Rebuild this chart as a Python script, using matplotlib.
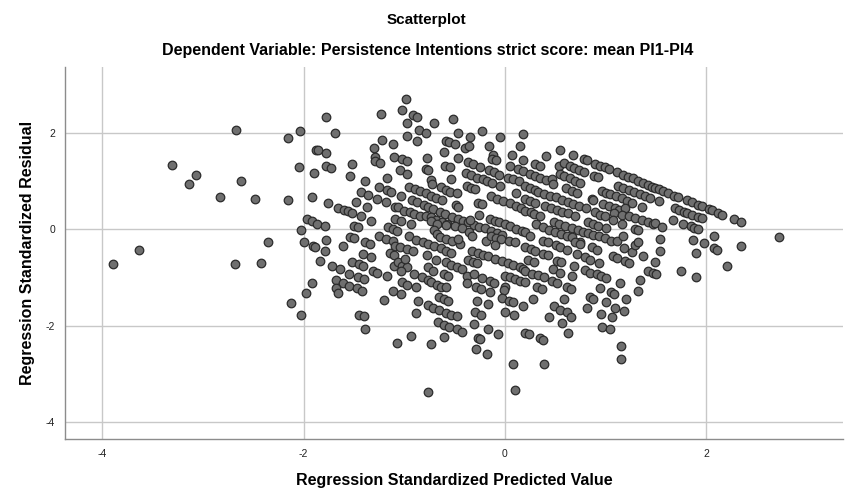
import matplotlib.pyplot as plt

# far-left, sparse
pred_left = [-3.89, -3.63, -3.31, -3.14, -3.07, -2.83, -2.67, -2.68, -2.62, -2.48, -2.42, -2.35]
resid_left = [-0.73, -0.44, 1.33, 0.94, 1.13, 0.67, 2.06, -0.73, 1.00, 0.63, -0.71, -0.27]

# x from -2.2 to -1.05
pred_a = [-1.78, -1.23, -2.04, -1.69, -2.15, -1.22, -1.11, -1.88, -1.86, -1.78, -1.30, -1.29, -1.29, -1.24,
          -1.10, -2.05, -1.78, -1.73, -1.52, -1.90, -1.54, -1.39, -1.17, -2.15, -1.92, -1.25, -1.17, -1.13,
          -1.43, -1.36, -1.27, -1.18, -1.76, -1.48, -1.66, -1.60, -1.56, -1.52, -1.37, -1.43, -1.33, -1.97,
          -1.92, -1.87, -1.79, -2.03, -1.50, -1.46, -1.16, -1.11, -1.25, -1.18, -1.11, -2.00, -1.78, -1.54,
          -1.50, -1.39, -1.34, -1.91, -1.89, -1.61, -1.79, -1.84, -1.52, -1.45, -1.41, -1.41, -1.33, -1.72,
          -1.64, -1.55, -1.14, -1.10, -1.31, -1.27, -1.17, -1.92, -1.68, -1.61, -1.55, -1.47, -1.42, -1.46,
          -1.40, -1.68, -1.66, -1.98, -2.12, -1.20, -1.11, -1.10, -2.03, -1.45, -1.40, -1.39, -1.07]
resid_a = [2.33, 2.38, 2.04, 2.00, 1.88, 1.85, 1.77, 1.65, 1.63, 1.58, 1.69, 1.50, 1.42, 1.38,
           1.50, 1.29, 1.31, 1.27, 1.35, 1.17, 1.10, 1.00, 1.06, 0.60, 0.67, 0.875, 0.81, 0.77,
           0.77, 0.71, 0.63, 0.56, 0.54, 0.56, 0.44, 0.40, 0.375, 0.33, 0.46, 0.27, 0.17, 0.21,
           0.17, 0.10, 0.06, -0.02, 0.06, 0.04, 0.04, 0.00, -0.15, -0.21, -0.25, -0.27, -0.23, -0.17,
           -0.19, -0.27, -0.31, -0.35, -0.375, -0.35, -0.46, -0.67, -0.69, -0.73, -0.77, -0.52, -0.58, -0.77,
           -0.83, -0.92, -0.50, -0.54, -0.875, -0.90, -0.98, -1.125, -1.06, -1.125, -1.17, -1.23, -1.29, -1.00,
           -1.04, -1.23, -1.33, -1.33, -1.54, -1.46, -1.29, -0.77, -1.79, -1.77, -1.81, -2.06, -2.35]

# x from -1.05 to 0.2, upper half
pred_b = [-0.985, -1.02, -0.915, -0.875, -0.975, -0.70, -0.51, -0.85, -0.78, -0.975, -0.87, -0.47, -0.23,
          -0.58, -0.55, -0.50, -0.35, -0.05, -0.16, -0.40, -0.36, -0.60, 0.15, 0.18, -1.02, -0.975, -0.77,
          -0.47, -0.12, -0.13, -0.09, 0.07, 0.18, -1.04, -0.975, -0.78, -0.76, -0.59, -0.54, -0.37, -0.32,
          -0.25, -0.16, -0.11, -0.06, 0.05, 0.13, 0.18, -0.73, -0.72, -0.53, -0.39, -0.34, -0.28, -0.22,
          -0.18, -0.13, -0.05, 0.03, 0.08, 0.14, -0.38, -0.34, -0.30, -0.955, -0.895, -0.845, -0.785, -0.73,
          -0.68, -0.62, -0.63, -0.58, -0.54, -0.48, -1.03, -0.27, -0.23, -0.14, -0.08, -0.02, 0.05, 0.11,
          0.16, 0.11, -0.925, -0.875, -0.80, -0.76, -0.71, -0.64, -0.59, -0.52, -0.47, -0.42, -0.37, -0.31,
          -0.26, -0.20, -0.14, -0.08, -0.03, -1.09, -1.06, -1.00, -0.945, -0.905, -0.845, -0.49, -0.47, -1.09,
          -1.03, -0.935, -0.785, -0.735, -0.68, -0.62, -0.57, -0.50, -0.43, -0.36, -0.15, -0.10, -0.06, 0.00,
          0.05, 0.11, 0.17, -0.73, -0.67, -0.35, -0.26, -0.70, -0.67, -0.58, -0.955, -1.07]
resid_b = [2.69, 2.46, 2.375, 2.33, 2.19, 2.19, 2.29, 2.06, 2.00, 1.92, 1.83, 2.00, 2.04,
           1.83, 1.81, 1.77, 1.90, 1.90, 1.73, 1.69, 1.73, 1.60, 1.73, 1.98, 1.46, 1.42, 1.48,
           1.48, 1.54, 1.46, 1.44, 1.54, 1.44, 1.23, 1.15, 1.25, 1.23, 1.31, 1.29, 1.40, 1.35,
           1.29, 1.23, 1.19, 1.125, 1.31, 1.25, 1.21, 1.02, 0.94, 1.04, 1.17, 1.125, 1.06, 1.04,
           1.00, 0.96, 0.90, 1.06, 1.04, 1.00, 0.90, 0.85, 0.83, 0.875, 0.83, 0.79, 0.75, 0.69,
           0.65, 0.60, 0.875, 0.81, 0.77, 0.75, 0.69, 0.54, 0.52, 0.69, 0.63, 0.58, 0.54, 0.48,
           0.44, 0.75, 0.60, 0.56, 0.50, 0.46, 0.42, 0.35, 0.31, 0.25, 0.21, 0.17, 0.15, 0.08,
           0.04, 0.02, -0.04, -0.08, -0.125, 0.46, 0.46, 0.375, 0.35, 0.31, 0.27, 0.50, 0.46, 0.21,
           0.17, 0.10, 0.27, 0.25, 0.19, 0.15, 0.10, 0.06, 0.02, -0.06, 0.21, 0.17, 0.15, 0.10,
           0.06, 0.00, -0.04, 0.17, 0.10, 0.19, 0.29, -0.02, -0.10, 0.08, -0.15, -0.04]

# x from -1.05 to 0.2, lower half
pred_c = [-0.64, -0.58, -0.52, -0.45, -0.33, -0.47, -0.19, -0.14, -0.09, -0.04, 0.04, 0.10, -0.10,
          -1.09, -1.04, -0.975, -0.915, -0.885, -0.815, -0.765, -0.70, -0.63, -0.58, -0.53,
          -0.775, -0.68, -1.06, -1.02, -0.975, -1.03, -0.995, -0.58, -0.53, -0.48, -0.43,
          -0.33, -0.27, -0.22, -0.17, -0.10, -0.03, 0.03, 0.08, 0.15, 0.18, -0.37, -0.32, -0.28,
          -0.765, -0.71, -0.905, -0.825, -0.765, -0.73, -0.60, -0.56, -0.38, -0.31, -0.23, -0.15, -0.11,
          0.00, 0.05, 0.10, 0.15, -1.02, -0.975, -0.67, -0.63, -0.58, -0.885, -0.38, -0.29, -0.24,
          0.00, -0.01, -0.15, -1.03, -0.65, -0.60, -0.56, -0.03, 0.04, 0.08, -0.865, -0.28, -0.17,
          -0.765, -0.71, -0.65, -0.58, -0.53, -0.48, -0.885, -0.30, -0.24, 0.00, 0.09, 0.18,
          -0.66, -0.60, -0.55, -0.48, -0.43, -0.31, -0.17, -0.07, -0.935, -0.73, -0.60, -0.27, -0.25,
          -0.29, -0.18, 0.08, 0.20, -0.76, 0.10]
resid_c = [-0.17, -0.21, -0.25, -0.31, -0.15, -0.21, -0.25, -0.15, -0.19, -0.21, -0.25, -0.27, -0.33,
           -0.35, -0.375, -0.42, -0.46, -0.23, -0.27, -0.31, -0.35, -0.40, -0.46, -0.50,
           -0.54, -0.65, -0.69, -0.77, -0.79, -0.875, -0.625, -0.69, -0.75, -0.79, -0.83,
           -0.46, -0.50, -0.54, -0.56, -0.625, -0.67, -0.71, -0.75, -0.79, -0.83, -0.65, -0.69, -0.71,
           -0.79, -0.875, -0.94, -1.00, -1.06, -1.10, -0.94, -0.98, -0.98, -0.94, -1.02, -1.08, -1.125,
           -0.98, -1.00, -1.04, -1.08, -1.10, -1.15, -1.15, -1.19, -1.21, -1.21, -1.125, -1.21, -1.25,
           -1.19, -1.27, -1.31, -1.35, -1.40, -1.44, -1.50, -1.42, -1.50, -1.52, -1.50, -1.48, -1.56,
           -1.58, -1.625, -1.67, -1.73, -1.77, -1.81, -1.73, -1.71, -1.77, -1.71, -1.79, -1.60,
           -1.92, -1.98, -2.02, -2.06, -2.125, -1.96, -2.08, -2.17, -2.21, -2.375, -2.23, -2.25, -2.27,
           -2.48, -2.58, -2.79, -2.15, -3.375, -3.33]

# x from 0.2 to 1.5, upper half
pred_d = [0.55, 0.41, 0.68, 0.79, 0.82, 0.895, 0.945, 0.995, 1.035, 1.11, 1.17, 1.22, 1.27, 1.32, 1.37,
          1.42, 1.46, 0.30, 0.35, 0.54, 0.59, 0.645, 0.685, 0.735, 0.785, 0.25, 0.30, 0.35, 0.41, 0.47,
          0.48, 0.55, 0.59, 0.645, 0.695, 0.745, 0.885, 0.925, 1.12, 1.17, 1.23, 1.28, 1.34, 1.39, 1.44,
          0.20, 0.25, 0.30, 0.61, 0.67, 0.715, 0.965, 1.005, 1.045, 1.10, 1.16, 1.21, 0.865, 0.875,
          0.33, 0.39, 0.45, 0.51, 0.57, 0.63, 0.68, 0.735, 0.805, 0.20, 0.25, 0.30, 0.975, 1.035, 1.095,
          1.135, 1.26, 1.36, 1.19, 0.20, 0.26, 0.29, 0.35, 0.40, 0.46, 0.52, 0.57, 0.63, 0.695, 0.895,
          0.945, 0.995, 1.085, 1.165, 1.23, 1.29, 1.36, 1.42, 0.49, 0.54, 0.60, 0.67, 0.725, 0.31, 0.38,
          0.44, 0.50, 0.56, 0.62, 0.825, 0.875, 0.925, 1.005, 1.075, 1.165, 1.29, 1.32, 1.47]
resid_d = [1.65, 1.52, 1.54, 1.46, 1.44, 1.35, 1.31, 1.29, 1.25, 1.19, 1.125, 1.08, 1.06, 1.00, 0.96,
           0.92, 0.875, 1.35, 1.31, 1.31, 1.375, 1.31, 1.27, 1.23, 1.19, 1.15, 1.10, 1.06, 1.02, 1.04,
           0.94, 1.15, 1.10, 1.06, 1.00, 0.96, 1.10, 1.08, 0.90, 0.85, 0.81, 0.77, 0.73, 0.69, 0.65,
           0.90, 0.85, 0.81, 0.85, 0.79, 0.75, 0.79, 0.75, 0.73, 0.69, 0.65, 0.58, 0.625, 0.60,
           0.77, 0.73, 0.69, 0.67, 0.60, 0.56, 0.52, 0.48, 0.44, 0.625, 0.58, 0.54, 0.52, 0.48, 0.44,
           0.40, 0.54, 0.46, 0.44, 0.375, 0.35, 0.31, 0.27, 0.48, 0.44, 0.40, 0.35, 0.33, 0.27, 0.35,
           0.29, 0.27, 0.33, 0.29, 0.27, 0.23, 0.19, 0.15, 0.15, 0.10, 0.06, 0.02, -0.02, 0.10, 0.04,
           -0.02, -0.06, -0.10, -0.15, 0.15, 0.10, 0.06, 0.02, 0.19, 0.10, 0.00, -0.02, 0.10]

# x from 0.2 to 1.5, lower half
pred_e = [0.775, 0.825, 0.875, 0.935, 0.995, 1.055, 1.11, 1.17, 0.20, 0.25, 0.67, 0.745,
          0.38, 0.43, 0.51, 0.55, 0.62, 0.695, 0.745, 0.865, 0.915, 1.18, 1.26, 1.29, 1.32,
          0.20, 0.26, 0.30, 0.38, 0.43, 0.52, 0.56, 0.715, 0.795, 0.845, 0.935, 1.075, 1.11, 1.19,
          1.23, 1.37, 0.23, 0.29, 0.48, 0.55, 0.69, 0.795, 0.845, 0.915, 0.955, 1.005, 1.42, 1.47,
          1.49, 0.20, 0.27, 0.33, 0.39, 0.67, 0.20, 0.47, 0.52, 0.62, 0.66, 1.145, 1.34, 0.32, 0.37,
          0.945, 1.055, 1.085, 1.32, 0.28, 0.59, 0.845, 0.875, 1.005, 1.20, 0.49, 0.55, 0.62, 0.66,
          0.815, 1.095, 1.18, 0.955, 0.44, 1.065, 0.57, 0.965, 1.045, 0.24, 0.63, 0.35, 0.38,
          1.155, 1.155, 0.39]
resid_e = [-0.06, -0.08, -0.125, -0.15, -0.19, -0.25, -0.25, -0.15, -0.06, -0.15, -0.17, -0.27,
           -0.25, -0.27, -0.33, -0.375, -0.44, -0.27, -0.31, -0.375, -0.44, -0.40, -0.48, -0.33, -0.27,
           -0.375, -0.42, -0.46, -0.52, -0.54, -0.67, -0.69, -0.52, -0.58, -0.65, -0.71, -0.56, -0.60, -0.67,
           -0.71, -0.56, -0.65, -0.69, -0.83, -0.90, -0.77, -0.85, -0.90, -0.94, -0.98, -1.02, -0.875, -0.90,
           -0.69, -0.875, -0.92, -0.96, -1.00, -0.98, -1.10, -1.08, -1.125, -1.21, -1.25, -1.125, -1.06, -1.21, -1.25,
           -1.23, -1.31, -1.35, -1.29, -1.44, -1.44, -1.40, -1.44, -1.52, -1.44, -1.60, -1.67, -1.71, -1.83,
           -1.625, -1.625, -1.69, -1.75, -1.83, -1.83, -1.94, -2.02, -2.08, -2.17, -2.15, -2.25, -2.29,
           -2.42, -2.69, -2.79]

# x above 1.5
pred_right = [1.49, 1.53, 1.57, 1.62, 1.68, 1.72, 1.81, 1.86, 1.92, 1.96, 2.03, 2.06, 2.12, 2.16, 2.28,
              2.35, 1.53, 1.69, 1.73, 1.78, 1.81, 1.86, 1.92, 1.96, 1.49, 1.56, 1.67, 1.77, 1.85, 1.88,
              1.92, 1.54, 1.87, 2.08, 1.98, 2.72, 2.08, 2.11, 2.35, 1.54, 1.90, 2.21, 1.50, 1.75, 1.90]
resid_right = [0.85, 0.83, 0.79, 0.75, 0.69, 0.67, 0.60, 0.56, 0.50, 0.48, 0.42, 0.40, 0.33, 0.29, 0.21,
               0.15, 0.58, 0.44, 0.40, 0.35, 0.33, 0.29, 0.25, 0.23, 0.125, 0.04, 0.19, 0.10, 0.06, 0.02,
               0.00, -0.21, -0.23, -0.15, -0.29, -0.17, -0.40, -0.44, -0.35, -0.46, -0.50, -0.77, -0.92, -0.875, -1.00]

pred = pred_left + pred_a + pred_b + pred_c + pred_d + pred_e + pred_right
resid = resid_left + resid_a + resid_b + resid_c + resid_d + resid_e + resid_right

plt.rcParams['font.family'] = ['Liberation Sans', 'DejaVu Sans']

fig = plt.figure(figsize=(8.54, 5.04), dpi=100)
ax = fig.add_axes([65 / 854, 1 - 439 / 504, (843 - 65) / 854, (439 - 67) / 504])

ax.scatter(pred, resid, s=38, c='#6f6f6f', edgecolors='#2b2b2b', linewidths=0.9, zorder=3)

ax.set_xlim(-4.37, 3.36)
ax.set_ylim(-4.35, 3.36)
ax.set_xticks([-4, -2, 0, 2])
ax.set_yticks([-4, -2, 0, 2])
ax.set_xticklabels(['-4', '-2', '0', '2'])
ax.set_yticklabels(['-4', '-2', '0', '2'])
ax.grid(True, color='#c8c8c8', linewidth=1.0, zorder=0)
ax.tick_params(length=0, labelsize=7.5, colors='#222222', pad=7)
for side in ['top', 'right']:
    ax.spines[side].set_visible(False)
for side in ['left', 'bottom']:
    ax.spines[side].set_color('#8c8c8c')
    ax.spines[side].set_linewidth(1.0)

fig.text(426 / 854, 1 - 20 / 504, 'Scatterplot', ha='center', va='center', fontsize=11, fontweight='bold')
fig.text(428 / 854, 1 - 50 / 504, 'Dependent Variable: Persistence Intentions strict score: mean PI1-PI4',
         ha='center', va='center', fontsize=11.5, fontweight='bold')
fig.text(454 / 854, 1 - 480 / 504, 'Regression Standardized Predicted Value', ha='center', va='center',
         fontsize=11.5, fontweight='bold')
fig.text(28 / 854, 1 - 253 / 504, 'Regression Standardized Residual', ha='center', va='center',
         rotation=90, fontsize=11.5, fontweight='bold')

fig.savefig('out.png', dpi=100)
